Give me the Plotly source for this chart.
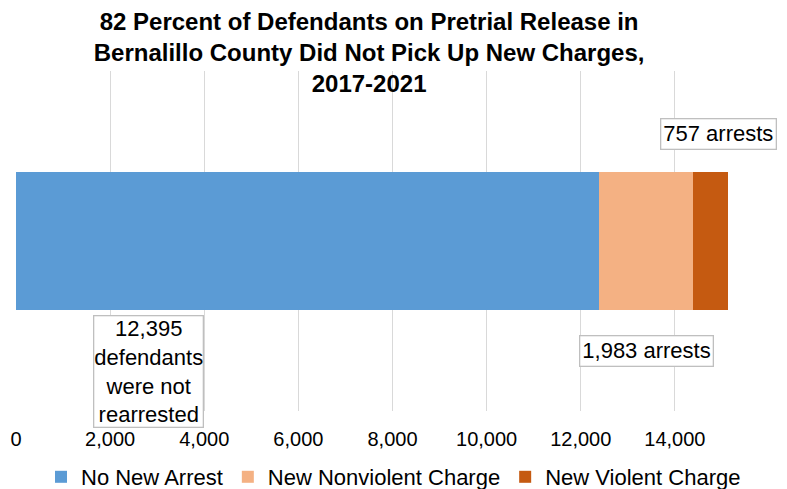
import plotly.graph_objects as go

series = ["No New Arrest", "New Nonviolent Charge", "New Violent Charge"]
values = [12395, 1983, 757]
colors = ["#5B9BD5", "#F4B183", "#C55A11"]
category = ["Bernalillo County"]
tick_vals = [0, 2000, 4000, 6000, 8000, 10000, 12000, 14000]
tick_text = ["0", "2,000", "4,000", "6,000", "8,000", "10,000", "12,000", "14,000"]

FONT = "Liberation Sans, Arial, sans-serif"

fig = go.Figure()
for name, v, c in zip(series, values, colors):
    fig.add_trace(go.Bar(
        y=category, x=[v], name=name, orientation="h",
        marker=dict(color=c, line=dict(width=0)), width=0.406,
        hoverinfo="x+name",
    ))

ann_style = dict(showarrow=False, bgcolor="white", bordercolor="#BFBFBF",
                 borderwidth=1.3, font=dict(family=FONT, size=22, color="#000000"),
                 xref="x", yref="paper", xanchor="center", yanchor="middle")

annotations = [
    dict(x=14917, y=0.815, text=f"{values[2]:,} arrests", borderpad=2, **ann_style),
    dict(x=13387, y=0.176, text=f"{values[1]:,} arrests", borderpad=2, **ann_style),
    dict(x=2805, y=0.115,
         text=f"{values[0]:,}<br>defendants<br>were not<br>rearrested",
         borderpad=0, **ann_style),
]

fig.update_layout(
    width=787, height=489,
    barmode="stack",
    paper_bgcolor="white", plot_bgcolor="white",
    margin=dict(l=16, r=18, t=71, b=78, autoexpand=False),
    title=dict(
        text="82 Percent of Defendants on Pretrial Release in<br>Bernalillo County Did Not Pick Up New Charges,<br>2017-2021",
        x=0.469, xanchor="center", xref="container",
        y=1 - 30 / 489, yanchor="top", yref="container",
        font=dict(family=FONT, size=24, color="#000000", weight="bold"),
    ),
    xaxis=dict(range=[0, 16000], tickvals=tick_vals, ticktext=tick_text,
               showgrid=True, gridcolor="#D9D9D9", gridwidth=1.3,
               zeroline=False, showline=False, ticks="", ticklabelstandoff=14,
               tickfont=dict(family=FONT, size=20, color="#000000")),
    yaxis=dict(range=[-0.5, 0.5], showticklabels=False, showgrid=False,
               zeroline=False, showline=False),
    legend=dict(orientation="h", x=0.5, xanchor="center", xref="container",
                y=12 / 489, yanchor="middle", yref="container",
                font=dict(family=FONT, size=22, color="#000000"),
                traceorder="normal", itemwidth=30),
    annotations=annotations,
    showlegend=True,
)

fig.write_html("out.html", config={"displayModeBar": False},
               post_script="document.body.style.margin='0';")
